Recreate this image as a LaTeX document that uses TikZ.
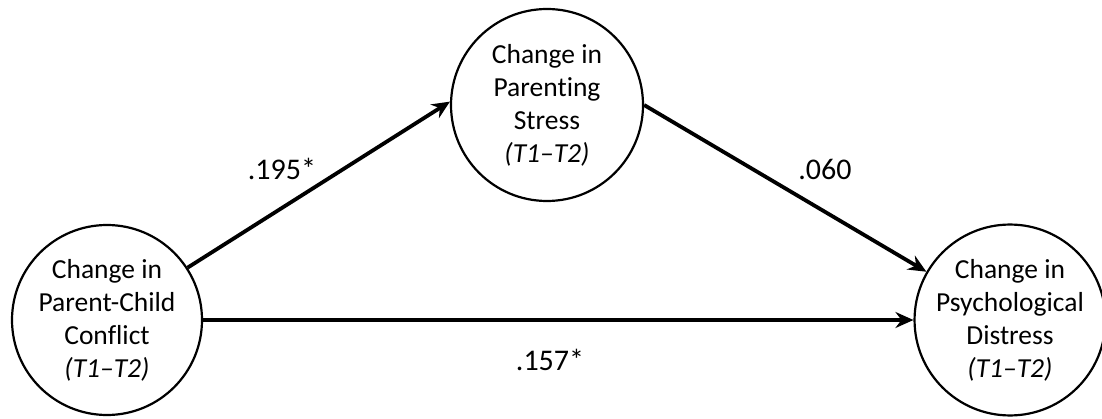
\documentclass[tikz,border=0pt]{standalone}
\usepackage{fontspec}
\setmainfont[Ligatures={NoCommon}]{Carlito}
\usetikzlibrary{arrows.meta}
\begin{document}
\begin{tikzpicture}[x=1pt,y=1pt,
  var/.style={circle,draw,line width=2.2pt,minimum size=190pt,inner sep=0pt,
    align=center,font=\fontsize{27.5}{33}\selectfont},
  path/.style={line width=3.8pt,-{Stealth[length=18pt,width=16pt,inset=6pt]}},
  coef/.style={font=\fontsize{30}{34}\selectfont}]
\useasboundingbox (0,0) rectangle (1102,418);
\node[var] (pcc) at (107,98) {Change in\\Parent-Child\\Conflict\\\textit{(T1–T2)}};
\node[var,minimum size=192pt] (ps) at (547,313) {Change in\\Parenting\\Stress\\\textit{(T1–T2)}};
\node[var] (pd) at (1010,98) {Change in\\Psychological\\Distress\\\textit{(T1–T2)}};
\draw[path] (pcc.33.5) -- (ps.178);
\draw[path] (ps.0) -- (pd.150);
\draw[path] (pcc.east) -- (pd.west);
\node[coef] (a) at (282,249) {.195*};
\node[coef] (b) at (825,249) {.060};
\node[coef] (c) at (550,58) {.157*};
\end{tikzpicture}
\end{document}
